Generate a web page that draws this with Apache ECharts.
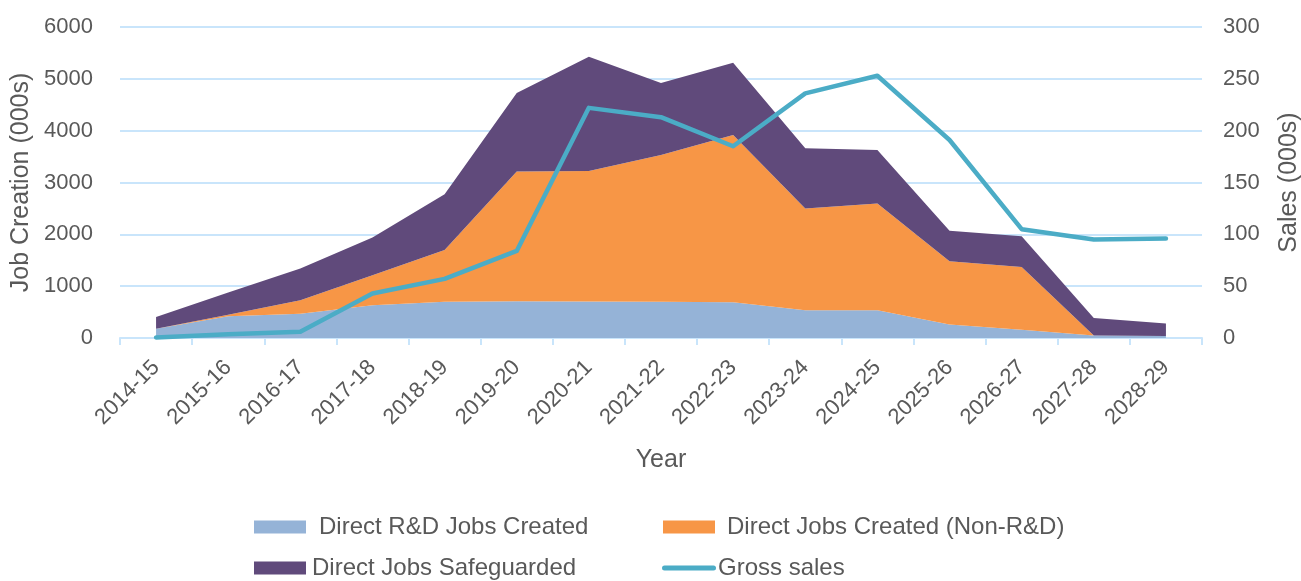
<!DOCTYPE html>
<html><head><meta charset="utf-8">
<script src="https://cdn.jsdelivr.net/npm/echarts@6/dist/echarts.min.js"></script>
<style>html,body{margin:0;padding:0;background:#fff}#c{width:1301px;height:581px}</style>
</head><body><div id="c"></div>
<script>
var categories = ['2014-15','2015-16','2016-17','2017-18','2018-19','2019-20','2020-21','2021-22','2022-23','2023-24','2024-25','2025-26','2026-27','2027-28','2028-29'];
var rdJobs = [180, 420, 470, 630, 700, 710, 705, 700, 690, 535, 535, 260, 160, 50, 40];
var nonRdJobs = [0, 30, 258, 582, 1000, 2500, 2516, 2830, 3227, 1965, 2062, 1222, 1212, 0, 0];
var safeguarded = [225, 430, 613, 728, 1075, 1515, 2203, 1392, 1391, 1160, 1030, 586, 593, 334, 238];
var grossSales = [0.5, 3.5, 6, 43, 57, 84, 222, 213, 185, 236, 253, 191, 105, 95, 96];
var leftTicks = {min: 0, max: 6000, interval: 1000};
var rightTicks = {min: 0, max: 300, interval: 50};

var txt = '#595959';
var gridC = '#c9e5fb';
var font = 'Liberation Sans, Arial, sans-serif';
var chart = echarts.init(document.getElementById('c'));
function leg(name, left, top, padLeft){
  return {data:[{name:name, icon:'rect'}], left:left, top:top, itemWidth:52, itemHeight:13, itemGap:0,
    textStyle:{color:txt, fontSize:24, fontFamily:font, padding:[0,0,0,padLeft]}, padding:0, selectedMode:false};
}
function plain(v){ return String(v); }
chart.setOption({
  animation:false,
  grid:{left:120, right:99, top:27, bottom:243, containLabel:false, outerBoundsMode:'none'},
  legend:[
    leg('Direct R&D Jobs Created', 254, 515, 8),
    leg('Direct Jobs Created (Non-R&D)', 663, 515, 7),
    leg('Direct Jobs Safeguarded', 254, 556, 1),
    {data:[{name:'Gross sales', icon:'path://M2.5,0 L51.5,0 A2.5,2.5 0 0 1 51.5,5 L2.5,5 A2.5,2.5 0 0 1 2.5,0 Z'}], left:662, top:556, itemWidth:54, itemHeight:13, padding:0, selectedMode:false,
     itemStyle:{color:'#4bacc6'},
     textStyle:{color:txt, fontSize:24, fontFamily:font, padding:[0,0,0,-3]}}
  ],
  xAxis:{type:'category', data:categories, boundaryGap:true,
    name:'Year', nameLocation:'middle', nameGap:110, nameTextStyle:{color:txt, fontSize:25, fontFamily:font},
    axisLine:{lineStyle:{color:gridC, width:2}},
    axisTick:{show:true, length:7, lineStyle:{color:gridC, width:2}},
    axisLabel:{rotate:45, color:txt, fontSize:22, fontFamily:font, margin:26, interval:0}},
  yAxis:[
    {type:'value', min:leftTicks.min, max:leftTicks.max, interval:leftTicks.interval,
     name:'Job Creation (000s)', nameLocation:'middle', nameGap:85, nameRotate:90,
     nameTextStyle:{color:txt, fontSize:25, fontFamily:font},
     axisLine:{show:false}, axisTick:{show:false},
     splitLine:{lineStyle:{color:gridC, width:2}},
     axisLabel:{color:txt, fontSize:22, fontFamily:font, margin:27, formatter:plain}},
    {type:'value', min:rightTicks.min, max:rightTicks.max, interval:rightTicks.interval,
     name:'Sales (000s)', nameLocation:'middle', nameGap:75, nameRotate:90,
     nameTextStyle:{color:txt, fontSize:25, fontFamily:font},
     axisLine:{show:false}, axisTick:{show:false}, splitLine:{show:false},
     axisLabel:{color:txt, fontSize:22, fontFamily:font, margin:21, formatter:plain}}
  ],
  series:[
    {name:'Direct R&D Jobs Created', type:'line', stack:'jobs', data:rdJobs, symbol:'none',
     lineStyle:{width:0}, areaStyle:{color:'#95b3d7', opacity:1}, itemStyle:{color:'#95b3d7'}},
    {name:'Direct Jobs Created (Non-R&D)', type:'line', stack:'jobs', data:nonRdJobs, symbol:'none',
     lineStyle:{width:0}, areaStyle:{color:'#f79646', opacity:1}, itemStyle:{color:'#f79646'}},
    {name:'Direct Jobs Safeguarded', type:'line', stack:'jobs', data:safeguarded, symbol:'none',
     lineStyle:{width:0}, areaStyle:{color:'#604a7b', opacity:1}, itemStyle:{color:'#604a7b'}},
    {name:'Gross sales', type:'line', yAxisIndex:1, data:grossSales, symbol:'none', z:5,
     lineStyle:{width:4.5, color:'#4bacc6', cap:'round', join:'round'}, itemStyle:{color:'#4bacc6'}}
  ]
});
</script></body></html>
